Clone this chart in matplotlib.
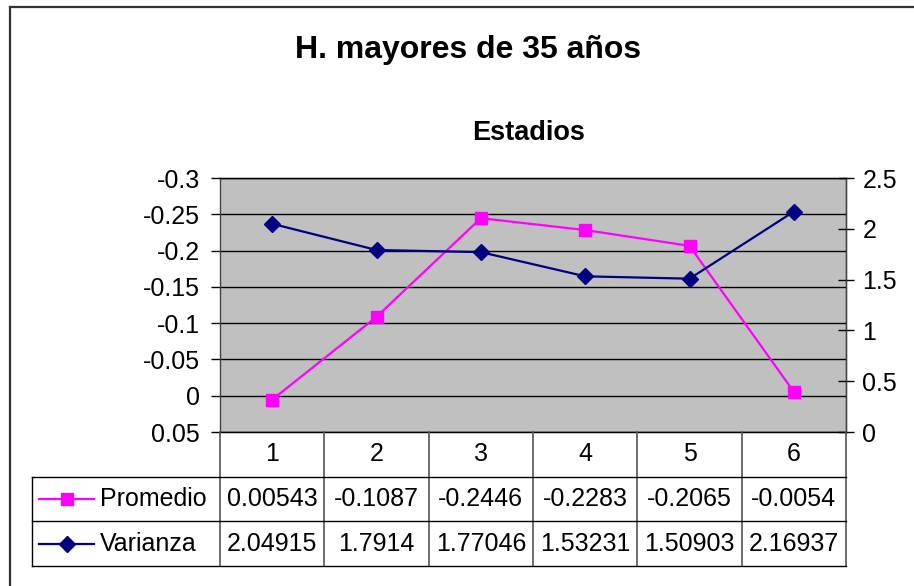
import matplotlib.pyplot as plt
from matplotlib.lines import Line2D

plt.rcParams['font.family'] = ['Liberation Sans', 'DejaVu Sans']

# data
stages = ["1", "2", "3", "4", "5", "6"]
promedio = [0.00543, -0.1087, -0.2446, -0.2283, -0.2065, -0.0054]
varianza = [2.04915, 1.7914, 1.77046, 1.53231, 1.50903, 2.16937]
left_ticks = [-0.3, -0.25, -0.2, -0.15, -0.1, -0.05, 0, 0.05]
left_labels = ["-0.3", "-0.25", "-0.2", "-0.15", "-0.1", "-0.05", "0", "0.05"]
right_ticks = [0, 0.5, 1, 1.5, 2, 2.5]
right_labels = ["0", "0.5", "1", "1.5", "2", "2.5"]

W, H = 914, 586
PINK = "#FF00FF"
NAVY = "#000080"
FS = 18


def box(x0, y0, x1, y1):
    return [x0 / W, 1 - y1 / H, (x1 - x0) / W, (y1 - y0) / H]


fig = plt.figure(figsize=(W / 100, H / 100), dpi=100)

# outer chart border (only top and left visible in the crop)
fig.add_artist(Line2D([9.5 / W, 1], [1 - 7 / H, 1 - 7 / H], color="#333333", lw=1.6,
                      transform=fig.transFigure))
fig.add_artist(Line2D([9.5 / W, 9.5 / W], [0, 1 - 7 / H], color="#333333", lw=1.6,
                      transform=fig.transFigure))

fig.text(468 / W, 1 - 50 / H, "H. mayores de 35 años", ha="center", va="center",
         fontsize=23, fontweight="bold")
fig.text(529 / W, 1 - 133 / H, "Estadios", ha="center", va="center",
         fontsize=19.5, fontweight="bold")

ax = fig.add_axes(box(220, 178, 846, 432))
ax.set_facecolor("#C0C0C0")
x = list(range(len(stages)))
ax.set_xlim(-0.5, len(stages) - 0.5)
ax.set_ylim(0.05, -0.3)
ax.set_yticks(left_ticks)
ax.set_yticklabels(left_labels)
ax.set_xticks([])
ax.yaxis.grid(True, color="black", lw=1)
ax.set_axisbelow(True)
ax.tick_params(axis="y", direction="out", length=6.5, width=1, pad=8, labelsize=FS)
for s in ax.spines.values():
    s.set_color("black")
    s.set_linewidth(1)
ax.spines["left"].set_color("#444444")
ax.plot(x, promedio, color=PINK, lw=1.6, marker="s", markersize=8, zorder=3)

ax2 = ax.twinx()
ax2.set_ylim(0, 2.5)
ax2.set_yticks(right_ticks)
ax2.set_yticklabels(right_labels)
ax2.tick_params(axis="y", direction="inout", length=11.5, width=1, pad=6, labelsize=FS)
ax2.spines["left"].set_visible(False)
ax2.spines["right"].set_color("#444444")
ax2.plot(x, varianza, color=NAVY, lw=1.6, marker="D", markersize=8, zorder=3)

# data table
tab = fig.add_axes(box(220, 432, 846, 566), sharex=ax)
tab.set_ylim(3, 0)
tab.axis("off")
unit = 626 / len(stages)
left_edge = -0.5 - (220 - 32) / unit
for i in range(len(stages) + 1):
    tab.plot([i - 0.5, i - 0.5], [0, 3], color="#555555", lw=1.2, clip_on=False)
tab.plot([left_edge, left_edge], [1, 3], color="black", lw=1, clip_on=False)
for r in (1, 2, 3):
    tab.plot([left_edge, len(stages) - 0.5], [r, r], color="black", lw=1, clip_on=False)

for i, lab in enumerate(stages):
    tab.text(i, 0.5, lab, ha="center", va="center", fontsize=FS)
    tab.text(i, 1.5, str(promedio[i]), ha="center", va="center", fontsize=FS)
    tab.text(i, 2.5, str(varianza[i]), ha="center", va="center", fontsize=FS)

# legend keys inside the table
series = [("Promedio", PINK, "s", 1.5), ("Varianza", NAVY, "D", 2.5)]
for name, col, mk, row in series:
    k0 = -0.5 - (220 - 39) / unit
    k1 = -0.5 - (220 - 94) / unit
    tab.plot([k0, k1], [row, row], color=col, lw=1.6, clip_on=False)
    tab.plot([(k0 + k1) / 2], [row], color=col, marker=mk, markersize=8, clip_on=False)
    tab.text(-0.5 - (220 - 100) / unit, row, name, ha="left", va="center", fontsize=FS)

fig.savefig("out.png", dpi=100)
